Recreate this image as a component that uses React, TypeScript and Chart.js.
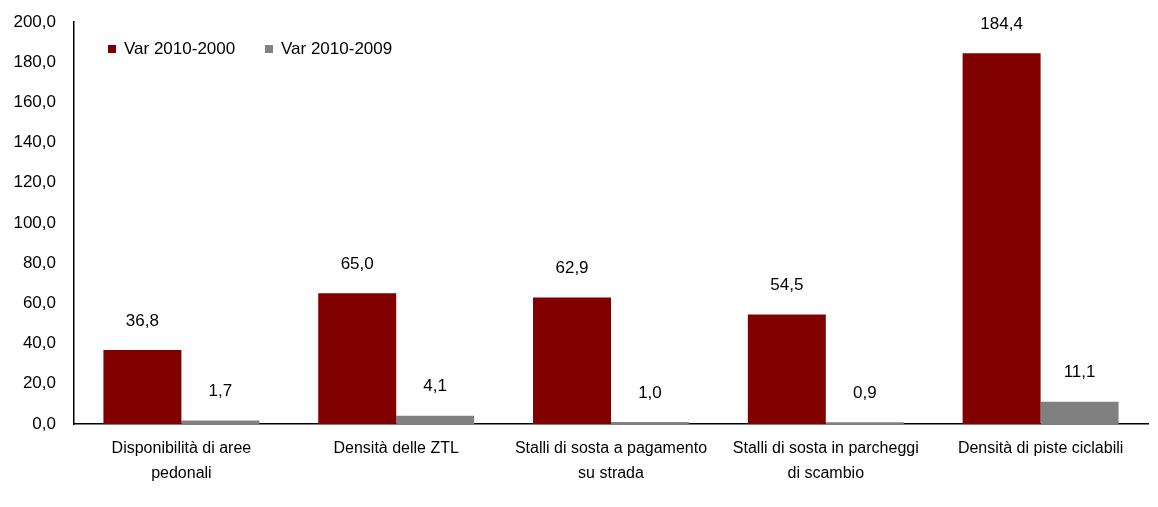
import React, { useEffect, useRef } from "react";
import { Chart, registerables } from "chart.js";

Chart.register(...registerables);

const categories: (string | string[])[] = [
  ["Disponibilità di aree", "pedonali"],
  "Densità delle ZTL",
  ["Stalli di sosta a pagamento", "su strada"],
  ["Stalli di sosta in parcheggi", "di scambio"],
  "Densità di piste ciclabili",
];
const var2010_2000 = [36.8, 65.0, 62.9, 54.5, 184.4];
const var2010_2009 = [1.7, 4.1, 1.0, 0.9, 11.1];
const seriesNames = ["Var 2010-2000", "Var 2010-2009"];
const seriesColors = ["#800000", "#808080"];

const FONT = "'Liberation Sans', Arial, sans-serif";
const fmt = (v: number) => v.toFixed(1).replace(".", ",");

const labelPlugin = {
  id: "valueLabels",
  afterDatasetsDraw(chart: any) {
    const ctx = chart.ctx;
    ctx.save();
    ctx.font = `17px ${FONT}`;
    ctx.fillStyle = "#000";
    ctx.textAlign = "center";
    ctx.textBaseline = "middle";
    chart.data.datasets.forEach((ds: any, i: number) => {
      const meta = chart.getDatasetMeta(i);
      meta.data.forEach((bar: any, j: number) => {
        ctx.fillText(fmt(ds.data[j]), bar.x, bar.y - 29);
      });
    });
    // legend
    const lx = [108, 265];
    ctx.textAlign = "left";
    ctx.textBaseline = "middle";
    seriesNames.forEach((n, i) => {
      ctx.fillStyle = seriesColors[i];
      ctx.fillRect(lx[i], 45, 8, 8);
      ctx.fillStyle = "#000";
      ctx.fillText(n, lx[i] + 16, 49);
    });
    ctx.restore();
  },
};

export default function App() {
  const ref = useRef<HTMLCanvasElement>(null);
  useEffect(() => {
    document.body.style.margin = "0";
    const chart = new Chart(ref.current!, {
      type: "bar",
      data: {
        labels: categories,
        datasets: [
          { label: seriesNames[0], data: var2010_2000, backgroundColor: seriesColors[0] },
          { label: seriesNames[1], data: var2010_2009, backgroundColor: seriesColors[1] },
        ],
      },
      options: {
        animation: false,
        responsive: false,
        layout: { padding: { top: 22, right: 10, left: 0, bottom: 0 } },
        plugins: { legend: { display: false }, tooltip: { enabled: false } },
        datasets: { bar: { categoryPercentage: 0.726, barPercentage: 1 } },
        scales: {
          x: {
            grid: { display: false, drawTicks: false },
            border: { color: "#000", width: 1.5 },
            ticks: { color: "#000", font: { family: FONT, size: 16, lineHeight: 1.55 }, padding: 12, maxRotation: 0, autoSkip: false },
            afterFit: (s: any) => { s.height = 83; s.paddingLeft = 0; s.paddingRight = 0; },
          },
          y: {
            min: 0,
            max: 200,
            grid: { display: false, drawTicks: false },
            border: { color: "#000", width: 1.5 },
            ticks: { stepSize: 20, color: "#000", font: { family: FONT, size: 17 }, padding: 18, callback: (v: any) => fmt(Number(v)) },
            afterFit: (s: any) => { s.width = 74; s.paddingTop = 0; s.paddingBottom = 0; },
          },
        },
      },
      plugins: [labelPlugin],
    });
    return () => chart.destroy();
  }, []);
  return <canvas ref={ref} width={1158} height={507} style={{ display: "block" }} />;
}
